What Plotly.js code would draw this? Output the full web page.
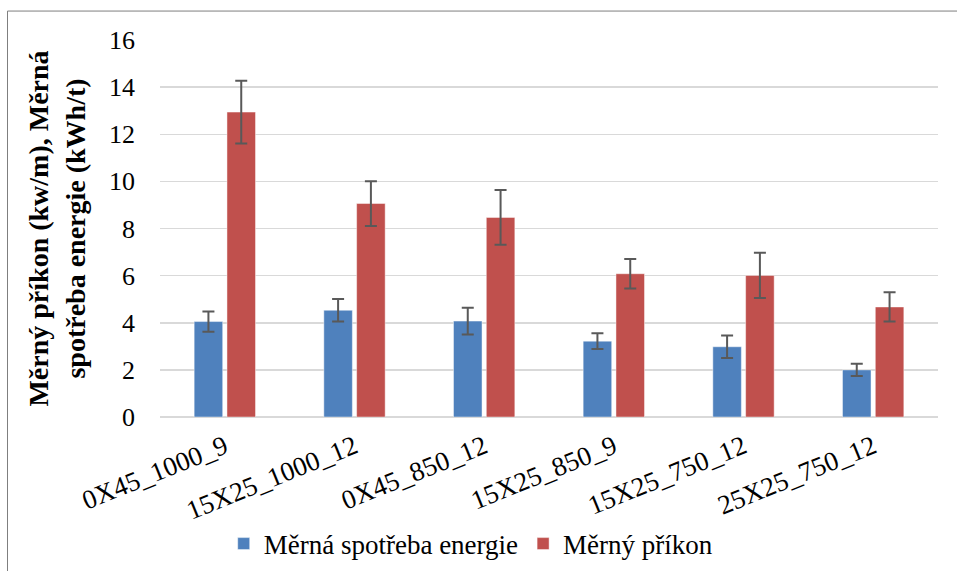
<!DOCTYPE html>
<html>
<head>
<meta charset="utf-8">
<script src="https://cdn.plot.ly/plotly-3.0.1.min.js"></script>
<style>
html,body{margin:0;padding:0;background:#fff;}
#plot svg text{font-family:"Times New Roman","Liberation Serif",serif !important;}
</style>
</head>
<body>
<div id="plot" style="width:957px;height:571px"></div>
<script>
const categories = ["0X45_1000_9", "15X25_1000_12", "0X45_850_12", "15X25_850_9", "15X25_750_12", "25X25_750_12"];
const seriesNames = ["Měrná spotřeba energie", "Měrný příkon"];
const energyValues = [4.05, 4.53, 4.07, 3.22, 2.98, 2.00];
const energyErrors = [0.43, 0.48, 0.57, 0.33, 0.48, 0.26];
const powerValues = [12.94, 9.06, 8.47, 6.08, 6.01, 4.67];
const powerErrors = [1.33, 0.95, 1.16, 0.63, 0.96, 0.62];
const yTickValues = [0, 2, 4, 6, 8, 10, 12, 14, 16];

const fontName = 'Times New Roman';
const errStyle = {type: 'data', visible: true, color: '#595959', thickness: 2, width: 6};

const traces = [
  {
    type: 'bar', name: seriesNames[0], x: categories, y: energyValues,
    marker: {color: '#4F81BD', line: {color: 'rgba(255,255,255,0.45)', width: 1}},
    error_y: Object.assign({array: energyErrors}, errStyle)
  },
  {
    type: 'bar', name: seriesNames[1], x: categories, y: powerValues,
    marker: {color: '#C0504D', line: {color: 'rgba(255,255,255,0.45)', width: 1}},
    error_y: Object.assign({array: powerErrors}, errStyle)
  }
];

const layout = {
  width: 957, height: 571,
  margin: {l: 160, r: 19, t: 39.5, b: 153.7, autoexpand: false},
  paper_bgcolor: '#ffffff', plot_bgcolor: '#ffffff',
  font: {family: fontName, color: '#000', size: 26},
  barmode: 'group', bargap: 0.494, bargroupgap: 0.13,
  showlegend: true,
  legend: {
    orientation: 'h', x: 0.40, xanchor: 'center', y: -0.337, yanchor: 'middle',
    font: {family: fontName, size: 27, color: '#000'}, traceorder: 'normal'
  },
  xaxis: {
    type: 'category', tickangle: -22, showgrid: false, zeroline: false, automargin: false,
    showline: false, ticks: '', ticklabelstandoff: 8,
    tickfont: {family: fontName, size: 27, color: '#000'}
  },
  yaxis: {
    range: [0, 16], tickvals: yTickValues, ticktext: yTickValues.map(String), automargin: false,
    showgrid: true, gridcolor: '#D9D9D9', gridwidth: 1.5,
    zeroline: true, zerolinecolor: '#D9D9D9', zerolinewidth: 1.5,
    showline: false, ticks: '', ticklabelstandoff: 24,
    tickfont: {family: fontName, size: 26, color: '#000'},
    title: {
      text: '<b>Měrný příkon (kw/m), Měrná<br>spotřeba energie (kWh/t)</b>',
      font: {family: fontName, size: 28, color: '#000'}, standoff: 15
    }
  },
  shapes: [{
    type: 'rect', xref: 'paper', yref: 'paper',
    x0: (7.5 - 160) / 778, x1: 1.04, y0: -0.45, y1: (417.3 - 10.5) / 377.8,
    line: {color: '#7F7F7F', width: 1}, fillcolor: 'rgba(0,0,0,0)', layer: 'below'
  }]
};

Plotly.newPlot('plot', traces, layout, {staticPlot: true, displayModeBar: false});
</script>
</body>
</html>
